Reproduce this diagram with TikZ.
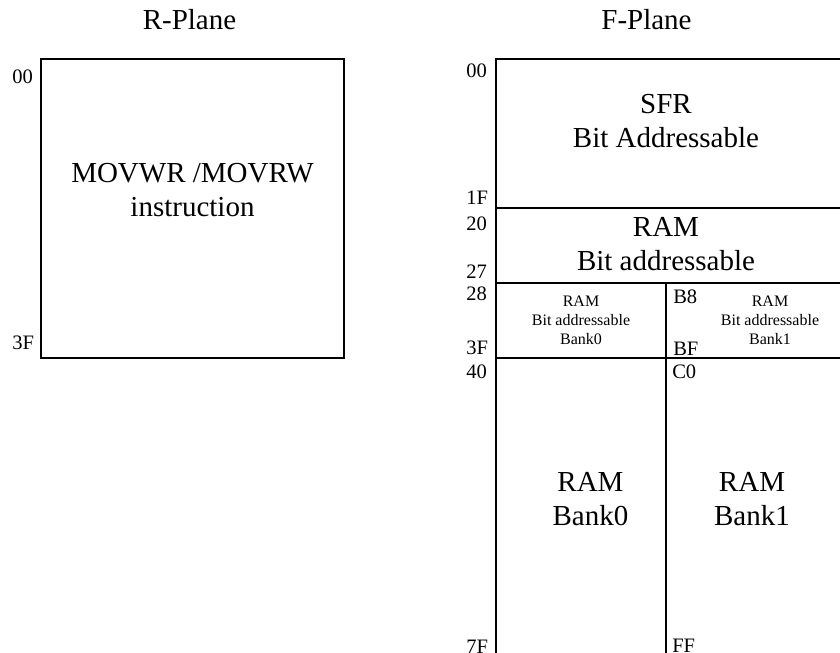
\documentclass[tikz,border=0pt]{standalone}
\usepackage{fontspec}
\setmainfont{Liberation Serif}
\usetikzlibrary{positioning}

\begin{document}
\begin{tikzpicture}[
    x=0.75pt, y=-0.75pt,
    wall/.style={draw, black, line width=1pt},
    ttl/.style={inner sep=0pt, anchor=base, font=\fontsize{21.75}{25.5}\selectfont},
    big/.style={inner sep=0pt, align=center, font=\fontsize{21.75}{25.5}\selectfont},
    tiny/.style={inner sep=0pt, align=center, font=\fontsize{12}{14.25}\selectfont},
    addr/.style={inner sep=0pt, anchor=base west, font=\fontsize{15.4}{18}\selectfont},
  ]
  \useasboundingbox (0,0) rectangle (840,653);

  % --- titles ---
  \node[ttl] (rttl) at (189.5,30) {R-Plane};
  \node[ttl] (fttl) at (646.5,30) {F-Plane};

  % --- R-Plane (left box) ---
  \draw[wall] (41,59) rectangle (344,358);
  \node[big] (rtxt) at (192.5,190) {MOVWR /MOVRW\\instruction};
  \node[addr] (r00) at (12,83) {00};
  \node[addr] (r3f) at (12,349) {3F};

  % --- F-Plane (right, runs off the page) ---
  \draw[wall] (840,59) -- (496,59) -- (496,653);
  \draw[wall] (496,208) -- (840,208);
  \draw[wall] (496,283) -- (840,283);
  \draw[wall] (496,358) -- (840,358);
  \draw[wall] (666,283) -- (666,653);

  \node[big] (sfr) at (666,121) {SFR\\Bit Addressable};
  \node[big] (ramb) at (666,244) {RAM\\Bit addressable};
  \node[tiny] (bk0b) at (581,320.5) {RAM\\Bit addressable\\Bank0};
  \node[tiny] (bk1b) at (770,320.5) {RAM\\Bit addressable\\Bank1};
  \node[big] (bk0) at (590.5,499) {RAM\\Bank0};
  \node[big] (bk1) at (752,499) {RAM\\Bank1};

  % address marks
  \node[addr] (f00) at (466,77) {00};
  \node[addr] (f1f) at (466,204) {1F};
  \node[addr] (f20) at (466,230) {20};
  \node[addr] (f27) at (466,278) {27};
  \node[addr] (f28) at (466,300) {28};
  \node[addr] (f3f) at (466,354) {3F};
  \node[addr] (f40) at (466,378) {40};
  \node[addr] (f7f) at (466,653) {7F};
  \node[addr] (fb8) at (673,303) {B8};
  \node[addr] (fbf) at (673,355) {BF};
  \node[addr] (fc0) at (672,378) {C0};
  \node[addr] (fff) at (672,652) {FF};
\end{tikzpicture}
\end{document}
